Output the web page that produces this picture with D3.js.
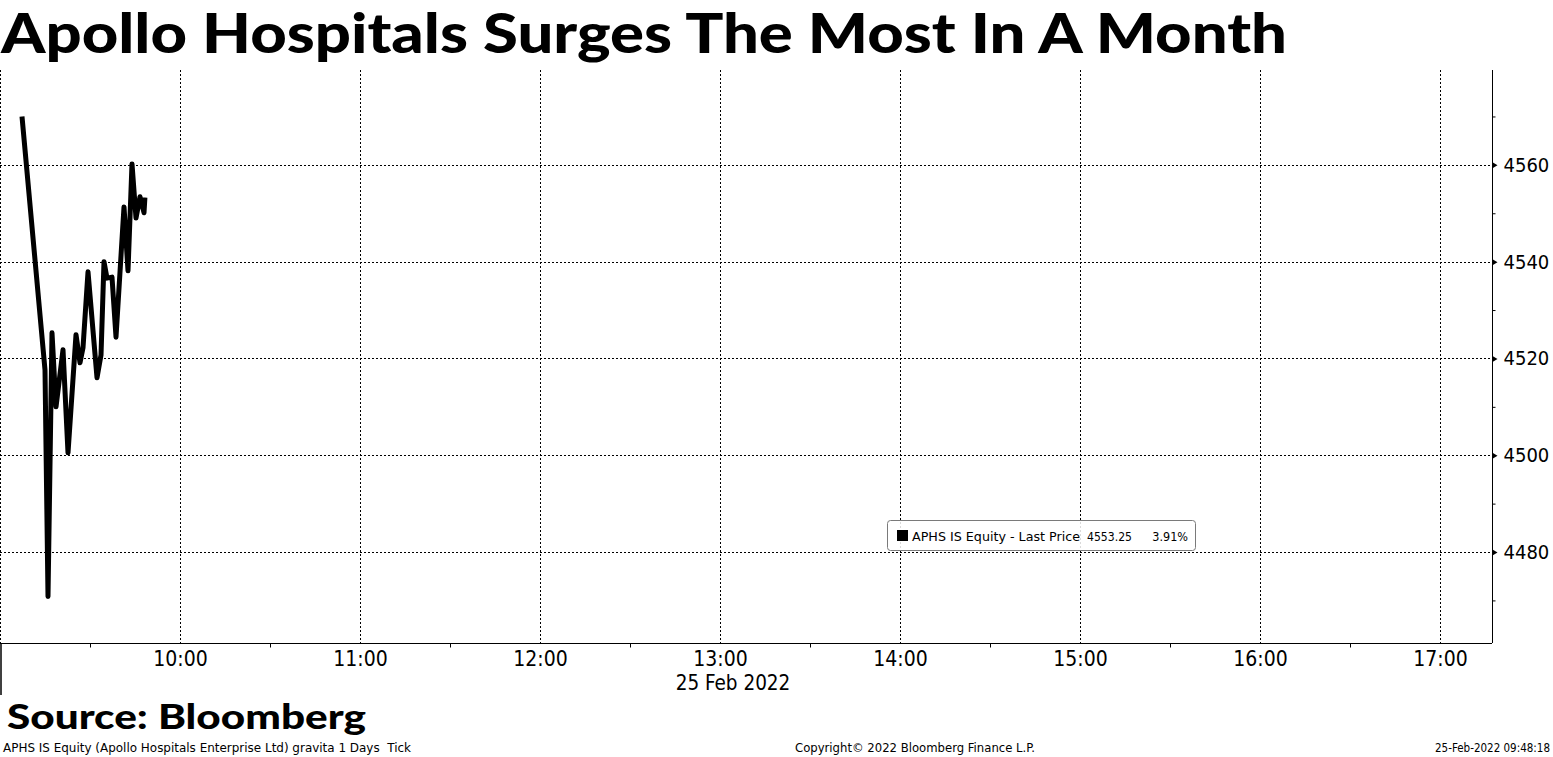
<!DOCTYPE html>
<html>
<head>
<meta charset="utf-8">
<script src="https://cdn.jsdelivr.net/npm/d3@7"></script>
<style>
  body { margin: 0; background: #fff; }
  svg { display: block; }
  .tick-label { font-family: "DejaVu Sans Condensed", "DejaVu Sans", sans-serif; font-stretch: condensed; fill: #000; }
  .small { font-family: "DejaVu Sans Condensed", "DejaVu Sans", sans-serif; font-stretch: condensed; fill: #000; white-space: pre; }
  .heavy { font-family: Lato, "DejaVu Sans", sans-serif; font-weight: 900; fill: #000; }
</style>
</head>
<body>
<svg id="chart" width="1553" height="757"></svg>
<script>
// ----------

const TITLE = "Apollo Hospitals Surges The Most In A Month";
const SOURCE = "Source: Bloomberg";
const FOOT_LEFT = "APHS IS Equity (Apollo Hospitals Enterprise Ltd) gravita 1 Days  Tick";
const FOOT_MID = "Copyright\u00A9 2022 Bloomberg Finance L.P.";
const FOOT_RIGHT = "25-Feb-2022 09:48:18";
const DATE_LABEL = "25 Feb 2022";

// tick prices (intraday, 25 Feb 2022)
const times = [
  "09:07:20", "09:15:00", "09:16:00", "09:17:20", "09:18:40", "09:21:00",
  "09:22:40", "09:25:20", "09:26:40", "09:27:40", "09:29:20", "09:32:20",
  "09:33:40", "09:34:40", "09:35:40", "09:37:20", "09:38:40", "09:41:20",
  "09:42:40", "09:44:00", "09:45:20", "09:46:40", "09:48:00", "09:48:18"
];
const prices = [
  4570.0, 4517.6, 4470.8, 4525.3, 4510.0, 4521.8,
  4500.5, 4524.9, 4519.1, 4522.2, 4537.9, 4516.0,
  4520.7, 4540.0, 4536.6, 4536.8, 4524.4, 4551.3,
  4538.1, 4560.2, 4549.0, 4553.4, 4550.1, 4553.25
];

const hourTicks = ["10:00", "11:00", "12:00", "13:00", "14:00", "15:00", "16:00", "17:00"];
const halfHourTicks = ["09:30", "10:30", "11:30", "12:30", "13:30", "14:30", "15:30", "16:30"];
const priceTicks = [4480, 4500, 4520, 4540, 4560];
const priceMinorTicks = [4470, 4490, 4510, 4530, 4550, 4570];

const LEGEND_NAME = "APHS IS Equity - Last Price";
const LEGEND_LAST = "4553.25";
const LEGEND_CHG = "3.91%";

// ----------

const DAY = "2022-02-25 ";
const parseTime = d3.timeParse("%Y-%m-%d %H:%M:%S");
const toDate = (t) => parseTime(DAY + (t.length === 5 ? t + ":00" : t));

const svg = d3.select("#chart");

const plot = { left: 0, right: 1492, top: 70, bottom: 643 };

const x = d3.scaleTime()
  .domain([toDate("09:00"), toDate("17:17:20")])
  .range([plot.left, plot.right]);

const y = d3.scaleLinear()
  .domain([4461.2, 4579.6])
  .range([plot.bottom, plot.top]);

const data = times.map((t, i) => ({ date: toDate(t), price: prices[i] }));

// grid lines (dotted)
const grid = svg.append("g").attr("stroke", "#000").attr("stroke-width", 1).attr("stroke-dasharray", "2,2");

grid.selectAll("line.h")
  .data(priceTicks)
  .enter()
  .append("line")
  .attr("class", "h")
  .attr("x1", plot.left)
  .attr("x2", plot.right)
  .attr("y1", (d) => Math.round(y(d)) + 0.5)
  .attr("y2", (d) => Math.round(y(d)) + 0.5);

grid.selectAll("line.v")
  .data(["09:00"].concat(hourTicks))
  .enter()
  .append("line")
  .attr("class", "v")
  .attr("x1", (d) => Math.round(x(toDate(d))) + 0.5)
  .attr("x2", (d) => Math.round(x(toDate(d))) + 0.5)
  .attr("y1", plot.top)
  .attr("y2", plot.bottom);

// legend box (grid shows through a little)
const legend = svg.append("g").attr("transform", "translate(887.5,520.5)");
legend.append("rect")
  .attr("width", 308)
  .attr("height", 30)
  .attr("rx", 3)
  .attr("fill", "#fff")
  .attr("fill-opacity", 0.85)
  .attr("stroke", "#7a7a7a")
  .attr("stroke-width", 1);
legend.append("rect")
  .attr("x", 9.5)
  .attr("y", 9.5)
  .attr("width", 11)
  .attr("height", 11)
  .attr("fill", "#000");
legend.append("text").attr("class", "small")
  .attr("x", 24.5).attr("y", 20.5)
  .attr("font-size", 12.5)
  .attr("textLength", 168).attr("lengthAdjust", "spacingAndGlyphs")
  .text(LEGEND_NAME);
legend.append("text").attr("class", "small")
  .attr("x", 199.5).attr("y", 20.5)
  .attr("font-size", 12.5)
  .attr("textLength", 45).attr("lengthAdjust", "spacingAndGlyphs")
  .text(LEGEND_LAST);
legend.append("text").attr("class", "small")
  .attr("x", 300.5).attr("y", 20.5)
  .attr("font-size", 12.5)
  .attr("text-anchor", "end")
  .text(LEGEND_CHG);

// price line
const line = d3.line()
  .x((d) => x(d.date))
  .y((d) => y(d.price));

svg.append("path")
  .datum(data)
  .attr("fill", "none")
  .attr("stroke", "#000")
  .attr("stroke-width", 5)
  .attr("stroke-linejoin", "round")
  .attr("stroke-linecap", "butt")
  .attr("d", line);

// bottom axis
const xAxis = d3.axisBottom(x)
  .tickValues(hourTicks.map(toDate))
  .tickSize(0)
  .tickPadding(5)
  .tickFormat(d3.timeFormat("%H:%M"));

const xAxisG = svg.append("g")
  .attr("transform", "translate(0," + (plot.bottom + 0.5) + ")")
  .call(xAxis);
xAxisG.select(".domain").attr("stroke", "#000").attr("d", "M" + plot.left + ",0H" + plot.right);
xAxisG.selectAll("text").attr("class", "tick-label").attr("font-size", 21).attr("dy", "0.85em").style("font-family", null);

const xMinor = d3.axisBottom(x)
  .tickValues(halfHourTicks.map(toDate))
  .tickSize(4)
  .tickFormat("");
const xMinorG = svg.append("g")
  .attr("transform", "translate(0," + (plot.bottom + 0.5) + ")")
  .call(xMinor);
xMinorG.select(".domain").remove();

// day separator under the axis
svg.append("line")
  .attr("x1", 1).attr("x2", 1)
  .attr("y1", plot.bottom)
  .attr("y2", 695)
  .attr("stroke", "#000")
  .attr("stroke-width", 1.5);

svg.append("text").attr("class", "tick-label")
  .attr("x", 733).attr("y", 690)
  .attr("font-size", 20.5)
  .attr("text-anchor", "middle")
  .text(DATE_LABEL);

// right axis
const yAxis = d3.axisRight(y)
  .tickValues(priceTicks)
  .tickSize(0)
  .tickPadding(11)
  .tickFormat(d3.format("d"));

const yAxisG = svg.append("g")
  .attr("transform", "translate(" + (plot.right + 0.5) + ",0)")
  .call(yAxis);
yAxisG.select(".domain").attr("stroke", "#000").attr("d", "M0," + plot.top + "V" + plot.bottom);
yAxisG.selectAll("text").attr("class", "tick-label").attr("font-size", 20).style("font-family", null);
yAxisG.selectAll(".tick")
  .append("path")
  .attr("d", "M0,-3L5,0L0,3Z")
  .attr("fill", "#000");

const yMinor = d3.axisRight(y)
  .tickValues(priceMinorTicks)
  .tickSize(3)
  .tickFormat("");
const yMinorG = svg.append("g")
  .attr("transform", "translate(" + (plot.right + 0.5) + ",0)")
  .call(yMinor);
yMinorG.select(".domain").remove();

// titles
svg.append("text").attr("class", "heavy")
  .attr("x", 1).attr("y", 53)
  .attr("font-size", 56)
  .attr("textLength", 1286).attr("lengthAdjust", "spacingAndGlyphs")
  .text(TITLE);

svg.append("text").attr("class", "heavy")
  .attr("x", 7).attr("y", 729)
  .attr("font-size", 34)
  .attr("textLength", 359).attr("lengthAdjust", "spacingAndGlyphs")
  .text(SOURCE);

// footer
svg.append("text").attr("class", "small")
  .attr("x", 3).attr("y", 752)
  .attr("font-size", 11.5)
  .attr("textLength", 408).attr("lengthAdjust", "spacingAndGlyphs")
  .text(FOOT_LEFT);

svg.append("text").attr("class", "small")
  .attr("x", 795).attr("y", 752)
  .attr("font-size", 11.5)
  .attr("textLength", 240).attr("lengthAdjust", "spacingAndGlyphs")
  .text(FOOT_MID);

svg.append("text").attr("class", "small")
  .attr("x", 1550).attr("y", 752)
  .attr("font-size", 11.5)
  .attr("text-anchor", "end")
  .text(FOOT_RIGHT);
</script>
</body>
</html>
